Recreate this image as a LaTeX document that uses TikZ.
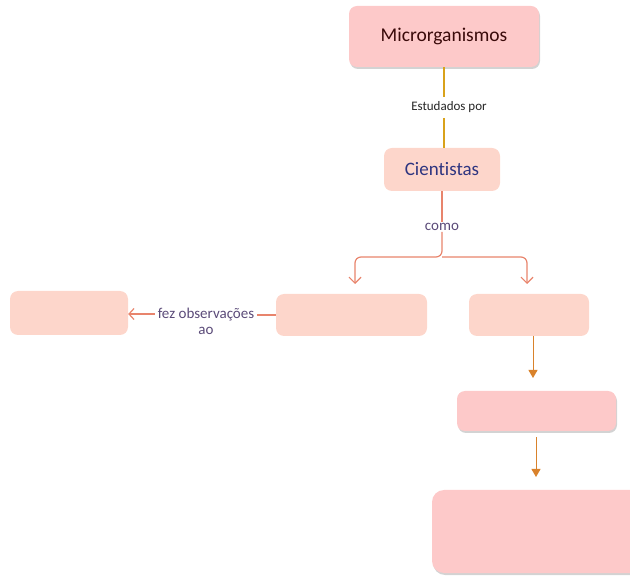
\documentclass[tikz,border=0pt]{standalone}
\usepackage{fontspec}
\setmainfont{Carlito}[Ligatures={NoCommon}]
\usetikzlibrary{shadows,arrows.meta}
\definecolor{pinkA}{HTML}{FDC9C9}
\definecolor{peach}{HTML}{FDD6CB}
\definecolor{gold}{HTML}{D9A21B}
\definecolor{salmon}{HTML}{E8846C}
\definecolor{orangeA}{HTML}{D9822B}
\definecolor{darkred}{HTML}{3A0A0A}
\definecolor{navy}{HTML}{2E3580}
\definecolor{purp}{HTML}{5A4A78}
\tikzset{
  pinkbox/.style={draw=none,fill=pinkA,rounded corners=8pt,inner sep=0pt,
    drop shadow={shadow xshift=1pt,shadow yshift=-2pt,opacity=0.35,fill=gray}},
  peachbox/.style={draw=none,fill=peach,rounded corners=8pt,inner sep=0pt},
  lbl/.style={text=purp,inner sep=1pt,align=center},
}
\begin{document}
\begin{tikzpicture}[x=1pt,y=-1pt]
\useasboundingbox (0,0) rectangle (630,577);
\node[pinkbox,minimum width=190pt,minimum height=61pt,font=\fontsize{19.5}{22}\selectfont,text=darkred] (micro) at (444,36.5) {Microrganismos};
\node[peachbox,minimum width=116pt,minimum height=43pt,font=\fontsize{19}{22}\selectfont,text=navy] (cient) at (442,169.5) {Cientistas};
\node[font=\fontsize{13}{15}\selectfont,text=black!85,inner sep=1pt] (estud) at (449,107) {Estudados por};
\node[lbl,font=\fontsize{15}{17}\selectfont] (como) at (442,227) {como};
\node[peachbox,minimum width=118pt,minimum height=44pt] (left) at (69,313) {};
\node[peachbox,minimum width=151pt,minimum height=42pt] (mid) at (351.5,315) {};
\node[peachbox,minimum width=120pt,minimum height=42pt] (right) at (529,315) {};
\node[pinkbox,minimum width=159pt,minimum height=40pt] (pk1) at (536.5,411) {};
\node[pinkbox,minimum width=210pt,minimum height=83pt,rounded corners=12pt] (pk2) at (537,531.5) {};
\node[lbl,font=\fontsize{15}{16}\selectfont,inner xsep=3pt] (fez) at (206,321) {fez observações\\ao};
\coordinate (split) at (442,257);
% gold line
\draw[gold,line width=1.6pt] (micro.south -| 444,0) -- (444,97);
\draw[gold,line width=1.6pt] (444,118) -- (cient.north -| 444,0);
% como
\draw[salmon,line width=1.2pt] (cient.south) -- (como.north);
\draw[salmon,line width=1.2pt,rounded corners=6pt,-{Straight Barb[length=6pt,width=12pt]}] (como.south) -- (split) -| (355,284);
\draw[salmon,line width=1.2pt,rounded corners=6pt,-{Straight Barb[length=6pt,width=12pt]}] (split) -| (527,284);
% fez observacoes
\draw[salmon,line width=1.2pt] (mid.west) -- (fez.east |- mid.west);
\draw[salmon,line width=1.2pt,-{Straight Barb[length=5pt,width=11pt]}] (fez.west |- 0,314) -- (left.east |- 0,314);
% orange arrows
\draw[orangeA,line width=1pt,-{Triangle[length=8pt,width=9pt]}] (533,336) -- (533,378);
\draw[orangeA,line width=1pt,-{Triangle[length=8pt,width=9pt]}] (536,437) -- (536,477);
\end{tikzpicture}
\end{document}
